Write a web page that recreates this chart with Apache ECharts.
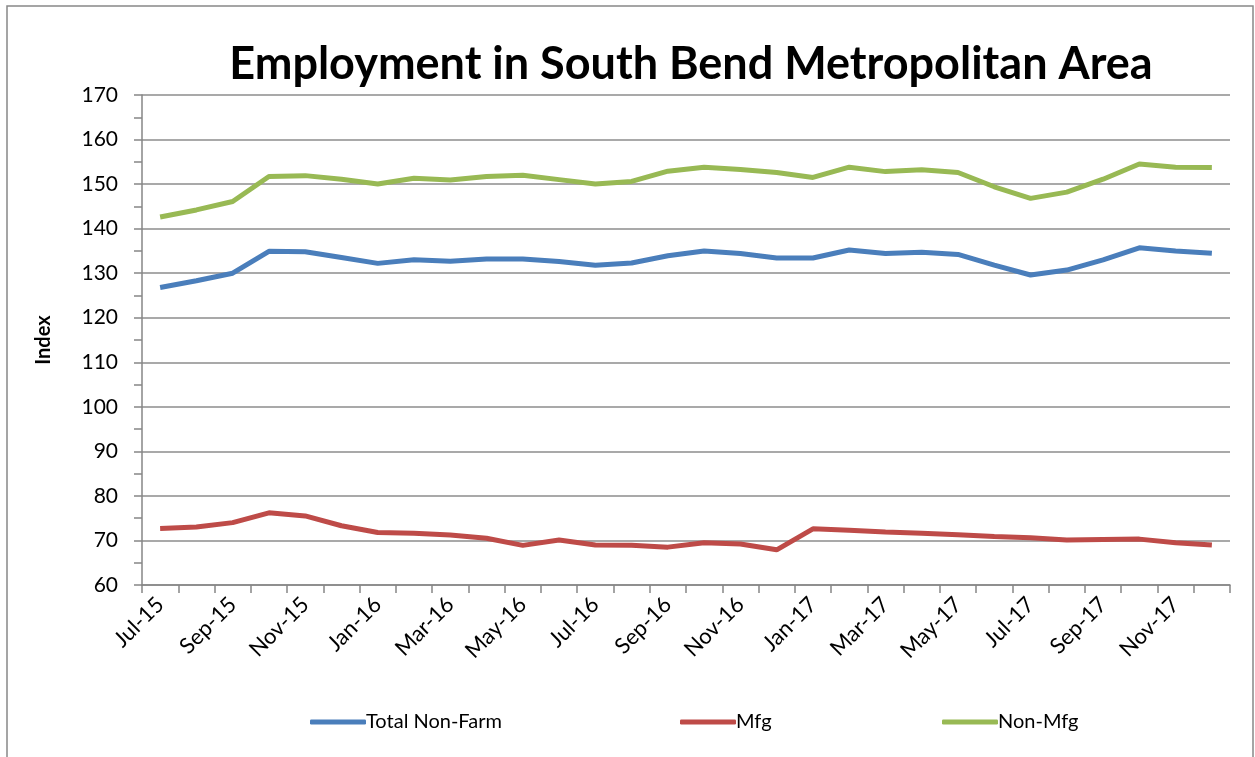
<!DOCTYPE html>
<html>
<head>
<meta charset="utf-8">
<script src="https://cdn.jsdelivr.net/npm/echarts@6/dist/echarts.min.js"></script>
<style>
html,body{margin:0;padding:0;background:#fff;}
#c{width:1255px;height:757px;}
</style>
</head>
<body>
<div id="c"></div>
<script>
var categories = ['Jul-15','Aug-15','Sep-15','Oct-15','Nov-15','Dec-15','Jan-16','Feb-16','Mar-16','Apr-16','May-16','Jun-16','Jul-16','Aug-16','Sep-16','Oct-16','Nov-16','Dec-16','Jan-17','Feb-17','Mar-17','Apr-17','May-17','Jun-17','Jul-17','Aug-17','Sep-17','Oct-17','Nov-17','Dec-17'];
var totalNonFarm = [126.8,128.3,130.0,134.9,134.8,133.5,132.2,133.0,132.7,133.2,133.2,132.6,131.8,132.3,133.9,135.0,134.4,133.4,133.4,135.2,134.4,134.7,134.2,131.8,129.6,130.7,133.0,135.7,135.0,134.5];
var mfg = [72.7,73.0,74.0,76.2,75.5,73.3,71.8,71.6,71.2,70.5,68.9,70.1,69.0,68.9,68.5,69.5,69.2,67.9,72.6,72.3,71.9,71.6,71.3,70.9,70.6,70.1,70.2,70.3,69.5,69.0];
var nonMfg = [142.6,144.2,146.1,151.7,151.9,151.1,150.0,151.3,150.9,151.7,152.0,151.0,150.0,150.6,152.9,153.8,153.3,152.6,151.5,153.8,152.8,153.2,152.6,149.4,146.8,148.2,151.1,154.5,153.8,153.7];
var seriesNames = ['Total Non-Farm','Mfg','Non-Mfg'];
var yTicks = {min:60, max:170, interval:10};

var font = 'Lato, "Open Sans", sans-serif';
var colors = ['#4A7EBB','#BE4B48','#98B954'];
var legendLeft = [305,675,937];
var legends = seriesNames.map(function(n,i){
  return {data:[n],top:707,left:legendLeft[i],itemWidth:56,itemHeight:5,icon:'roundRect',
    textStyle:{fontFamily:font,fontSize:20,color:'#000',padding:[0,0,0,-5]}};
});
var chart = echarts.init(document.getElementById('c'));
chart.setOption({
  animation:false,
  backgroundColor:'#fff',
  graphic:[{type:'rect',shape:{x:7,y:6,width:1246,height:760},style:{fill:'none',stroke:'#888',lineWidth:1.5},silent:true}],
  title:{text:'Employment in South Bend Metropolitan Area',left:686,top:37,textAlign:'center',
    textStyle:{fontFamily:font,fontWeight:'bold',fontSize:45,color:'#000'}},
  grid:{left:142,right:25,top:95,bottom:172,containLabel:false},
  legend:legends,
  xAxis:{type:'category',data:categories,boundaryGap:true,
    axisLine:{lineStyle:{color:'#868686',width:1.5}},
    axisTick:{show:true,length:8,interval:0,lineStyle:{color:'#868686',width:1.5}},
    axisLabel:{rotate:45,interval:1,fontFamily:font,fontSize:22,color:'#000',margin:16}},
  yAxis:{type:'value',min:yTicks.min,max:yTicks.max,interval:yTicks.interval,
    name:'Index',nameLocation:'middle',nameGap:88,
    nameTextStyle:{fontFamily:font,fontWeight:'bold',fontSize:20,color:'#000'},
    axisLine:{show:true,lineStyle:{color:'#868686',width:1.5}},
    axisTick:{show:true,length:8,lineStyle:{color:'#868686',width:1.5}},
    minorTick:{show:true,splitNumber:2,length:8,lineStyle:{color:'#868686',width:1.5}},
    splitLine:{show:true,lineStyle:{color:'#8c8c8c',width:1.5}},
    axisLabel:{fontFamily:font,fontSize:21,color:'#000',margin:24}},
  series:[
    {name:seriesNames[0],type:'line',data:totalNonFarm,showSymbol:false,symbol:'none',color:colors[0],lineStyle:{width:5,color:colors[0]}},
    {name:seriesNames[1],type:'line',data:mfg,showSymbol:false,symbol:'none',color:colors[1],lineStyle:{width:5,color:colors[1]}},
    {name:seriesNames[2],type:'line',data:nonMfg,showSymbol:false,symbol:'none',color:colors[2],lineStyle:{width:5,color:colors[2]}}
  ]
});
</script>
</body>
</html>
